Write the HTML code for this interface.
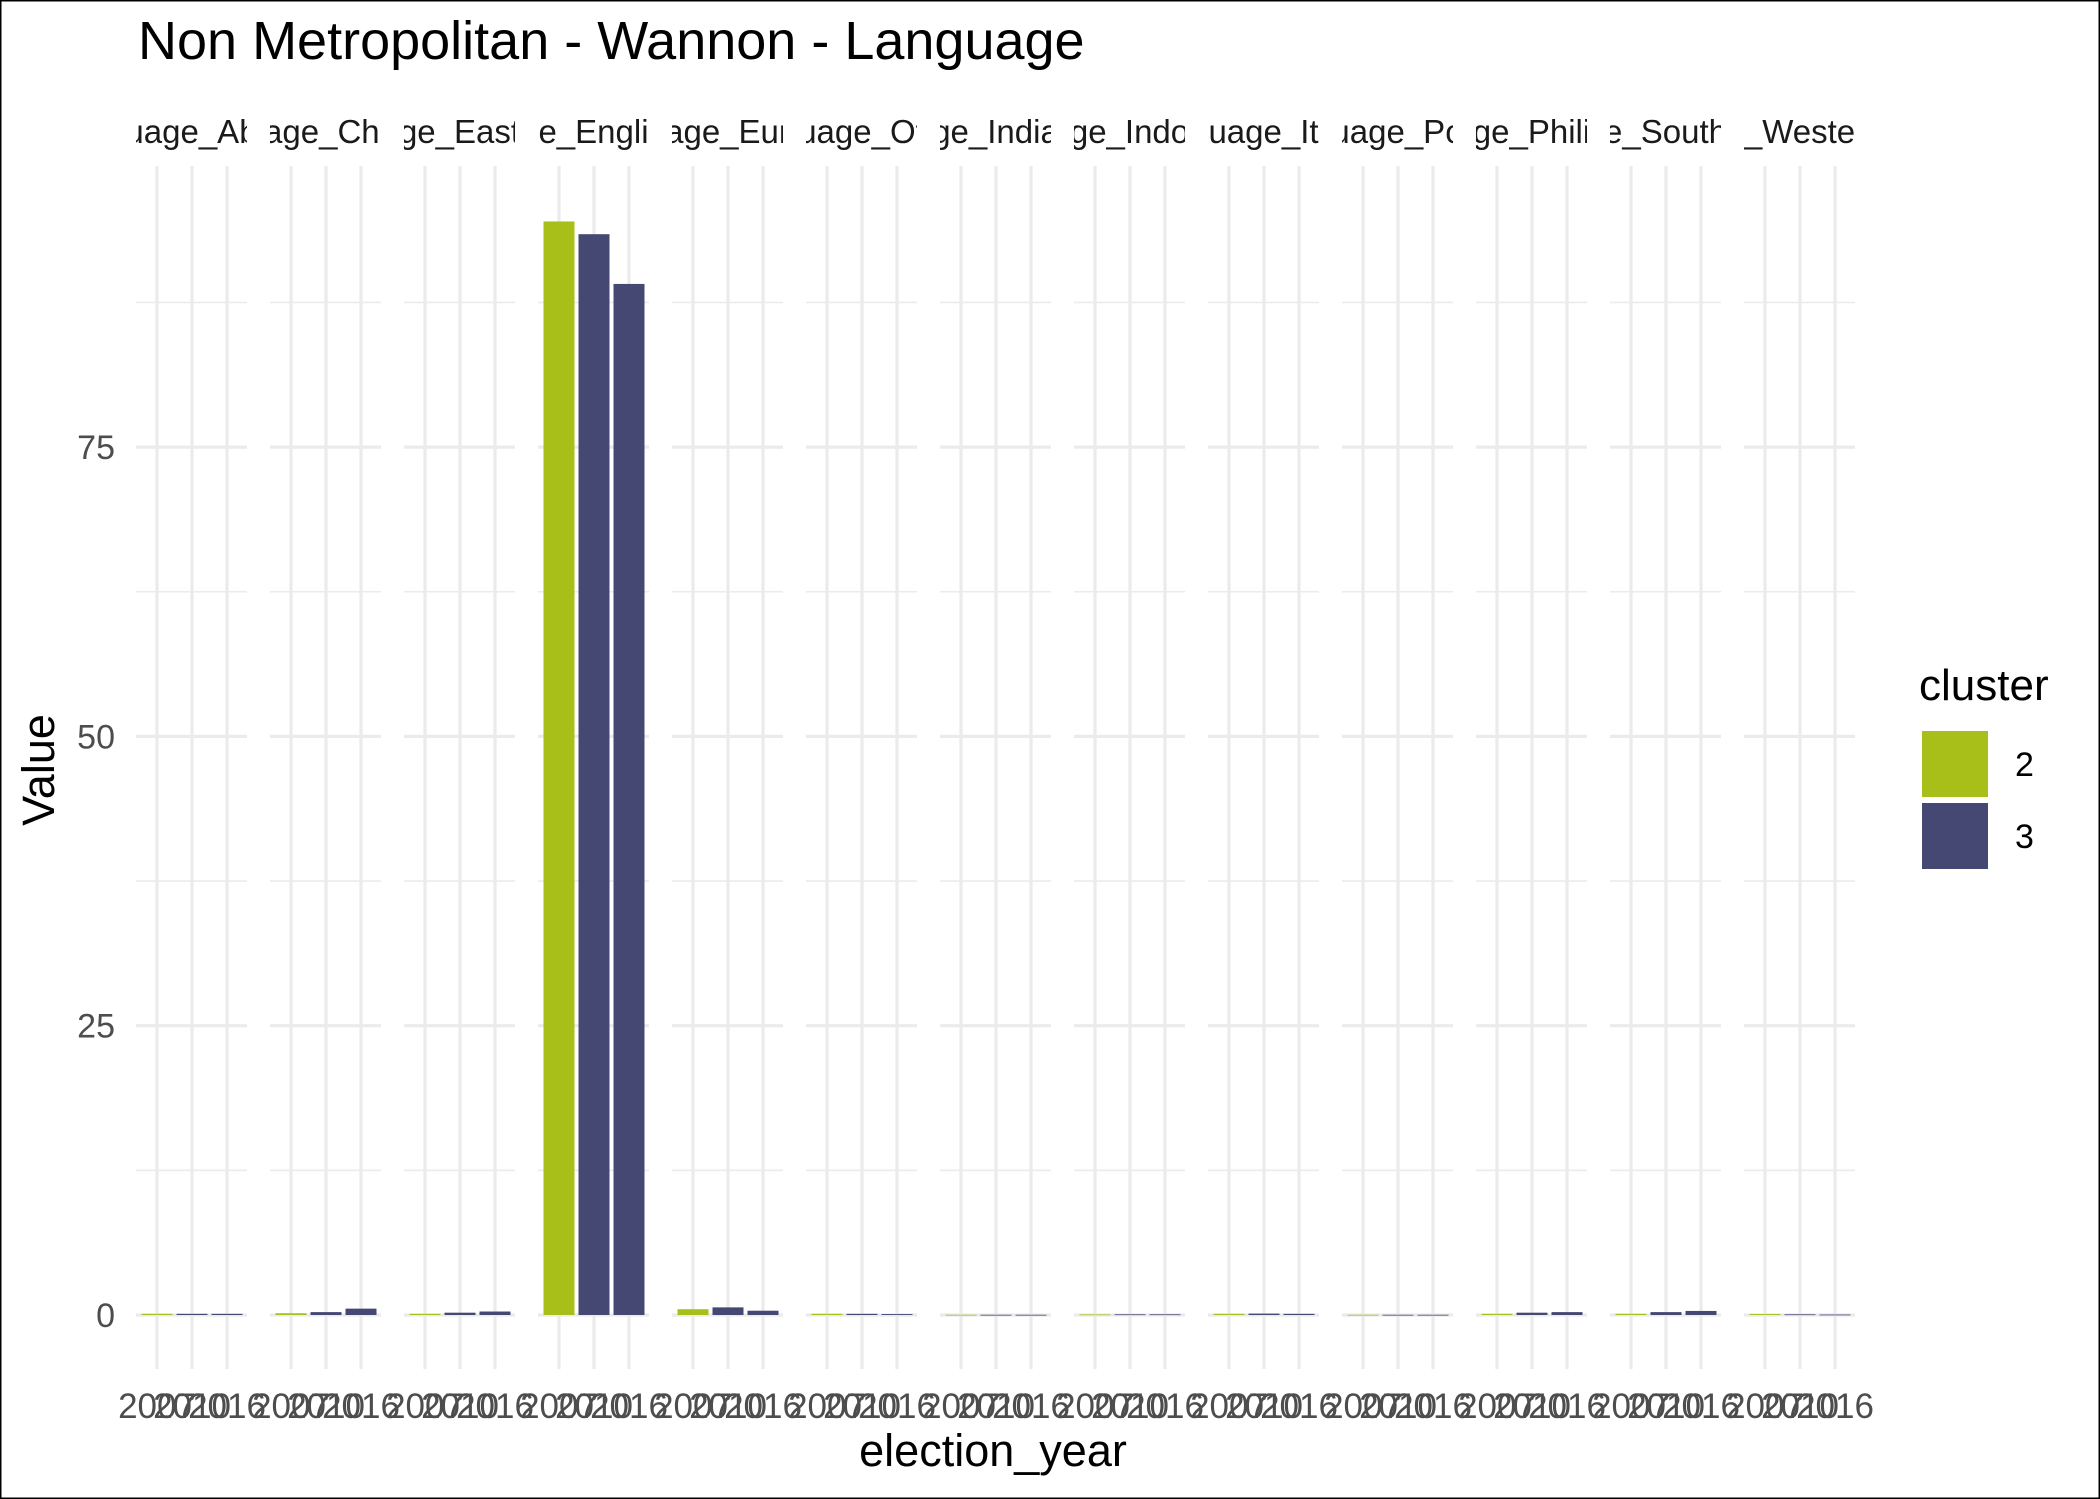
<!DOCTYPE html>
<html><head><meta charset="utf-8"><style>
html,body{margin:0;padding:0;background:#fff}
svg{display:block}
text{font-family:"Liberation Sans",Arial,sans-serif}
</style></head><body>
<svg id="chart" width="2100" height="1499" viewBox="0 0 2100 1499" xmlns="http://www.w3.org/2000/svg">
<rect x="0.5" y="0.5" width="2099" height="1498" fill="#fff" stroke="#000" stroke-width="2"/>
<text x="138" y="59" font-size="54" fill="#000">Non Metropolitan - Wannon - Language</text>
<defs id="clips"></defs>
<g id="panels"></g>
<text x="0" y="0" font-size="45" fill="#000" text-anchor="middle" transform="translate(54,770) rotate(-90)">Value</text>
<text x="993" y="1466" font-size="45" fill="#000" text-anchor="middle">election_year</text>
<g>
<text x="1919" y="700" font-size="44" fill="#000">cluster</text>
<rect x="1922" y="731" width="66" height="66" fill="#A8BF1A"/>
<text x="2015" y="776" font-size="34" fill="#000">2</text>
<rect x="1922" y="803" width="66" height="66" fill="#464874"/>
<text x="2015" y="848" font-size="34" fill="#000">3</text>
</g>
</svg>
<script>
const facets = ["uage_Ab","age_Chi","ge_East","e_Engli","age_Eur","uage_Ot","ge_India","ge_Indo","uage_It","uage_Po","ge_Phili","e_South","_Weste"];
const years = ["2007","2010","2016"];
const yearCluster = ["2","3","3"];
const v2007 = [0.1,0.15,0.1,94.5,0.5,0.1,0.02,0.05,0.1,0.02,0.1,0.1,0.08];
const v2010 = [0.1,0.25,0.2,93.4,0.66,0.1,0.02,0.06,0.12,0.02,0.2,0.25,0.06];
const v2016 = [0.1,0.55,0.3,89.1,0.37,0.08,0.02,0.06,0.1,0.02,0.25,0.35,0.04];
const yTicks = [0,25,50,75];
const yMinor = [12.5,37.5,62.5,87.5];

const NS="http://www.w3.org/2000/svg";
const g=document.getElementById('panels');
const defs=document.getElementById('clips');
const panelX0=136, panelPitch=134, panelW=111, panelTop=166, panelBot=1369;
const y0=1315, perUnit=289.3/25;
const yScale=v=>y0-v*perUnit;
const xScale=(f,i)=>panelX0+f*panelPitch+21+i*35;
const series=[v2007,v2010,v2016];
const colors={"2":"#A8BF1A","3":"#464874"};
function mk(tag,attrs,parent){const e=document.createElementNS(NS,tag);for(const k in attrs)e.setAttribute(k,attrs[k]);(parent||g).appendChild(e);return e;}
yTicks.forEach(t=>{
  const e=mk('text',{x:115,y:yScale(t)+12,'font-size':34,fill:'#4d4d4d','text-anchor':'end'});
  e.textContent=t;
  
  
});
facets.forEach((name,f)=>{
  const px=panelX0+f*panelPitch;
  const cp=mk('clipPath',{id:'clip'+f},defs);
  mk('rect',{x:px,y:100,width:panelW,height:60},cp);
  yMinor.forEach(t=>{
    const l=mk('line',{x1:px,x2:px+panelW,y1:yScale(t),y2:yScale(t),stroke:'#ebebeb','stroke-width':1.6});
    
    
  });
  yTicks.forEach(t=>{
    const l=mk('line',{x1:px,x2:px+panelW,y1:yScale(t),y2:yScale(t),stroke:'#ebebeb','stroke-width':3.2});
    
    
  });
  years.forEach((yr,i)=>{
    const cx=xScale(f,i);
    const l=mk('line',{x1:cx,x2:cx,y1:panelTop,y2:panelBot,stroke:'#ebebeb','stroke-width':3.2});
    
    
  });
  years.forEach((yr,i)=>{
    const cx=xScale(f,i);
    const v=series[i][f];
    const top=yScale(v);
    const b=mk('rect',{x:cx-15.5,y:top,width:31,height:Math.max(y0-top,0.8),fill:colors[yearCluster[i]]});
    
    
    const t=mk('text',{x:cx,y:1418,'font-size':35,fill:'#4d4d4d','text-anchor':'middle'});
    t.textContent=yr;
    
    
  });
  const s=mk('text',{x:px+panelW/2,y:143,'font-size':33,fill:'#1a1a1a','text-anchor':'middle','clip-path':'url(#clip'+f+')'});
  s.textContent=name;
  
  
});
</script>
</body></html>
